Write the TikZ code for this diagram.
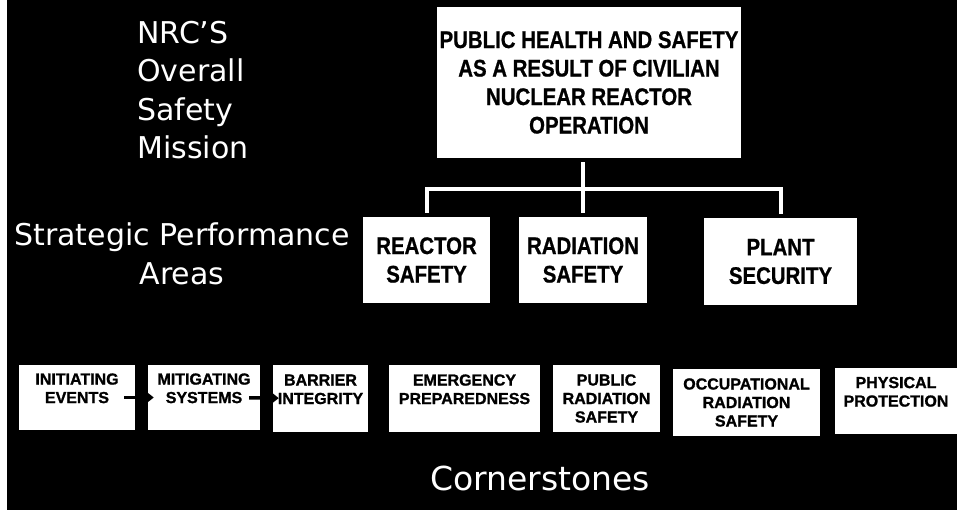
\documentclass[tikz,border=0pt]{standalone}
\usepackage{fontspec}
\setmainfont{DejaVu Sans}
\newfontfamily\condfont[FakeStretch=0.85,BoldFeatures={FakeBold=0.8}]{Liberation Sans}
\newfontfamily\boxfont[BoldFeatures={FakeBold=1.2}]{Liberation Sans}
\usetikzlibrary{arrows.meta}

\tikzstyle{mainbox} = [fill=white,inner sep=1pt,align=center,font=\condfont\bfseries\fontsize{24}{28.5}\selectfont]
\tikzstyle{cornerbox} = [fill=white,inner sep=1pt,align=center,font=\boxfont\bfseries\fontsize{16}{18.5}\selectfont]
\tikzstyle{caption} = [text=white,inner sep=0pt,font=\fontsize{30}{38.5}\selectfont]
\tikzstyle{link} = [white,line width=4pt,shorten <=4pt,shorten >=4pt]
\tikzstyle{flow} = [black,line width=3.5pt,-{Triangle[length=10pt,width=15pt]},shorten <=-11pt,shorten >=-6pt]

\begin{document}
\begin{tikzpicture}[x=1pt,y=-1pt]
	\useasboundingbox (0,0) rectangle (957,510);
	\fill[white] (0,0) rectangle (957,510);
	\fill[black] (7,0) rectangle (957,510);
	\node[caption,anchor=north west,align=left] (nrc) at (137,21) {NRC'S\\Overall\\Safety\\Mission};
	\node[caption,anchor=north,align=center] (spa) at (182,223) {Strategic Performance\\Areas};
	\node[caption,anchor=base,font=\fontsize{33}{40}\selectfont] (corner) at (540,490) {Cornerstones};
	\node[mainbox,minimum width=304pt,minimum height=151pt] (mission) at (589,82.5) {PUBLIC HEALTH AND SAFETY\\AS A RESULT OF CIVILIAN\\NUCLEAR REACTOR\\OPERATION};
	\node[mainbox,minimum width=127pt,minimum height=86pt] (reactor) at (426.5,260) {REACTOR\\SAFETY};
	\node[mainbox,minimum width=128pt,minimum height=86pt] (radiation) at (583,260) {RADIATION\\SAFETY};
	\node[mainbox,minimum width=153pt,minimum height=87pt] (security) at (780.5,261.5) {PLANT\\SECURITY};
	\coordinate (bar) at (583,189);
	\draw[link] (reactor.north) |- (bar) -| (security.north);
	\draw[link] (mission.south -| radiation) -- (radiation.north);
	\node[cornerbox,minimum width=116pt,minimum height=65pt] (initiating) at (77,397.5) {INITIATING\\EVENTS\\\mbox{}};
	\node[cornerbox,minimum width=112pt,minimum height=65pt] (mitigating) at (204,397.5) {MITIGATING\\SYSTEMS\\\mbox{}};
	\node[cornerbox,minimum width=95pt,minimum height=67pt] (barrier) at (320.5,398.5) {BARRIER\\INTEGRITY\\\mbox{}};
	\node[cornerbox,minimum width=151pt,minimum height=67pt] (emergency) at (464.5,398.5) {EMERGENCY\\PREPAREDNESS\\\mbox{}};
	\node[cornerbox,minimum width=107pt,minimum height=67pt] (publicrad) at (606.5,398.5) {PUBLIC\\RADIATION\\SAFETY};
	\node[cornerbox,minimum width=147pt,minimum height=67pt] (occuprad) at (746.5,402.5) {OCCUPATIONAL\\RADIATION\\SAFETY};
	\node[cornerbox,minimum width=122pt,minimum height=66pt] (physical) at (896,401) {PHYSICAL\\PROTECTION\\\mbox{}};
	\draw[flow] (initiating) -- (mitigating);
	\draw[flow] (mitigating) -- (barrier);
\end{tikzpicture}
\end{document}
